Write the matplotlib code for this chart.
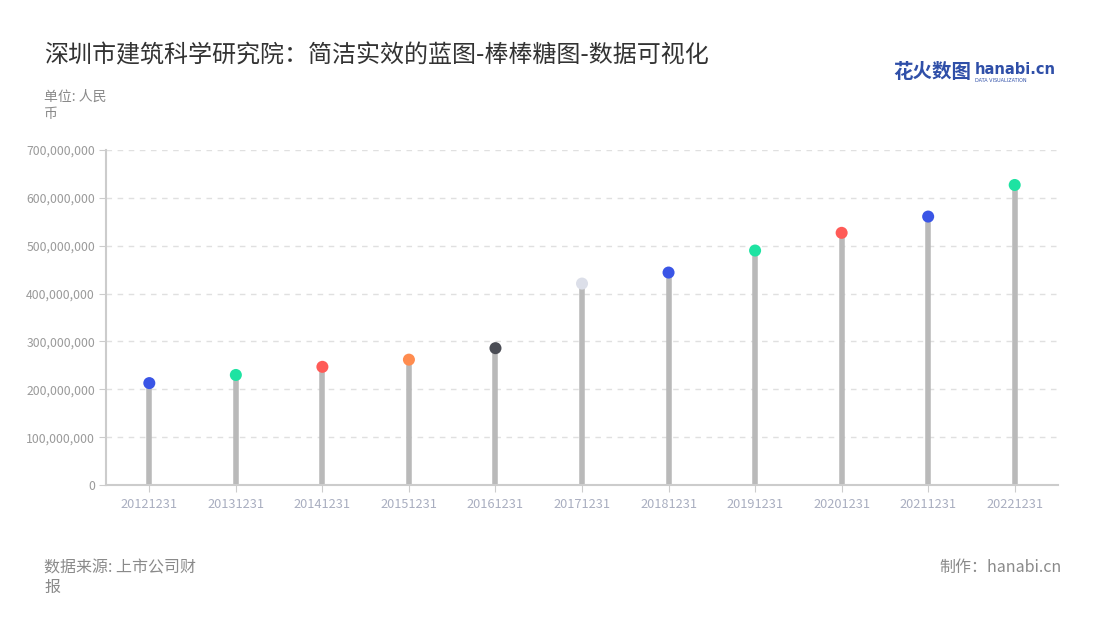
import matplotlib
matplotlib.use("Agg")
import matplotlib.pyplot as plt
from matplotlib.ticker import FuncFormatter

plt.rcParams['font.family'] = ['Noto Sans CJK SC', 'DejaVu Sans']

dates = ["20121231", "20131231", "20141231", "20151231", "20161231", "20171231",
         "20181231", "20191231", "20201231", "20211231", "20221231"]
values = [213e6, 230e6, 247e6, 262e6, 286e6, 421e6, 444e6, 490e6, 527e6, 561e6, 627e6]
dot_colors = ["#3a55e6", "#1ee3a2", "#ff5b57", "#ff8c4f", "#4b4d55", "#dcdfe9",
              "#3a55e6", "#1ee3a2", "#ff5b57", "#3a55e6", "#1ee3a2"]

fig = plt.figure(figsize=(11, 6.2), dpi=100)
ax = fig.add_axes([0.0964, 0.2177, 0.8654, 0.5403])

x = list(range(len(dates)))
ax.vlines(x, 0, values, color="#b9b9b9", linewidth=4, zorder=2)
ax.scatter(x, values, s=75, c=dot_colors, zorder=3, linewidths=0)

ax.set_xlim(-0.5, len(dates) - 0.5)
ax.set_ylim(0, 700e6)
ax.set_yticks([i * 100e6 for i in range(8)])
ax.yaxis.set_major_formatter(FuncFormatter(lambda v, p: f"{int(v):,}"))
ax.set_xticks(x)
ax.set_xticklabels(dates)

ax.grid(axis="y", linestyle=(0, (4, 4)), color="#e0e0e0", linewidth=1)
ax.set_axisbelow(True)
for s in ["top", "right"]:
    ax.spines[s].set_visible(False)
for s in ["left", "bottom"]:
    ax.spines[s].set_color("#cccccc")
    ax.spines[s].set_linewidth(1.5)
ax.tick_params(axis="y", colors="#cccccc", labelcolor="#9a9a9a", labelsize=8.8,
               length=5, pad=3)
ax.tick_params(axis="x", colors="#cccccc", labelcolor="#a9aec0", labelsize=9.2,
               length=5, pad=4)

fig.text(44 / 1100, 1 - 55 / 620, "深圳市建筑科学研究院：简洁实效的蓝图-棒棒糖图-数据可视化",
         fontsize=17.3, color="#333333", va="center", ha="left")
fig.text(44 / 1100, 1 - 105 / 620, "单位: 人民\n币", fontsize=10, color="#8a8a8a",
         va="center", ha="left", linespacing=1.3)
fig.text(44 / 1100, 1 - 578 / 620, "数据来源: 上市公司财\n报", fontsize=11.5, color="#8a8a8a",
         va="center", ha="left", linespacing=1.2)
fig.text(1062 / 1100, 1 - 567 / 620, "制作：hanabi.cn", fontsize=11.5, color="#8a8a8a",
         va="center", ha="right")

# logo
fig.text(893 / 1100, 1 - 73 / 620, "花火数图", fontsize=14, color="#2f4fa8",
         fontweight="bold", va="center", ha="left")
fig.text(975 / 1100, 1 - 70 / 620, "hanabi.cn", fontsize=10.5, color="#2f4fa8",
         fontweight="bold", va="center", ha="left", family=["DejaVu Sans"])
fig.text(975 / 1100, 1 - 81 / 620, "DATA VISUALIZATION", fontsize=3.5, color="#2f4fa8",
         va="center", ha="left", family=["DejaVu Sans"])

fig.savefig("out.png", dpi=100)
